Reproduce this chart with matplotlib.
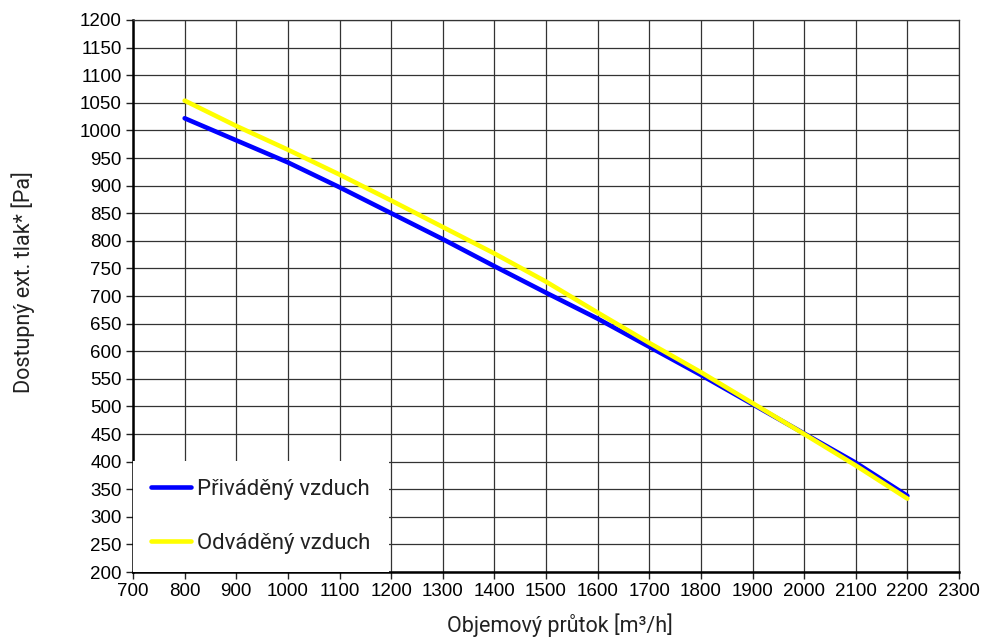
import matplotlib
matplotlib.use("Agg")
import matplotlib.pyplot as plt

flow = [800, 900, 1000, 1100, 1200, 1300, 1400, 1500, 1600, 1700, 1800, 1900, 2000, 2100, 2200]
supply = [1022, 982, 942, 897, 850, 803, 754, 706, 659, 608, 557, 504, 451, 398, 338]
exhaust = [1054, 1008, 965, 920, 873, 825, 777, 726, 670, 615, 562, 506, 450, 393, 333]

x_ticks = list(range(700, 2301, 100))
y_ticks = list(range(200, 1201, 50))

label_supply = "Přiváděný vzduch"
label_exhaust = "Odváděný vzduch"
xlabel = "Objemový průtok [m³/h]"
ylabel = "Dostupný ext. tlak* [Pa]"

plt.rcParams['font.family'] = ['Liberation Sans', 'DejaVu Sans']
label_font = ['Roboto', 'DejaVu Sans']

fig = plt.figure(figsize=(9.84, 6.41), dpi=100)
ax = fig.add_axes([0.1352, 0.1076, 0.8394, 0.8612])

ax.plot(flow, supply, color='#0000ff', linewidth=3.3, solid_capstyle='round', label=label_supply, zorder=3)
ax.plot(flow, exhaust, color='#ffff00', linewidth=3.3, solid_capstyle='round', label=label_exhaust, zorder=4)

ax.set_xlim(700, 2300)
ax.set_ylim(200, 1200)
ax.set_xticks(x_ticks)
ax.set_yticks(y_ticks)
ax.tick_params(axis='both', labelsize=13.5, length=5, width=1, color='#222222', pad=3)
ax.grid(True, color='#333333', linewidth=0.9)
ax.set_axisbelow(True)

for side in ['top', 'right']:
    ax.spines[side].set_linewidth(0.9)
    ax.spines[side].set_color('#333333')
for side in ['left', 'bottom']:
    ax.spines[side].set_linewidth(1.8)
    ax.spines[side].set_color('black')

ax.set_xlabel(xlabel, family=label_font, fontsize=15.5, color='#222222')
ax.set_ylabel(ylabel, family=label_font, fontsize=15.5, color='#222222')
ax.xaxis.set_label_coords(0.517, -0.075)
ax.yaxis.set_label_coords(-0.119, 0.525)

leg = ax.legend(loc='lower left', bbox_to_anchor=(0, 0), borderaxespad=0, frameon=True,
                fancybox=False, framealpha=1, edgecolor='none', facecolor='white',
                handlelength=1.8, handletextpad=0.3, labelspacing=1.5, borderpad=0.8,
                prop={'family': label_font, 'size': 16})
for t in leg.get_texts():
    t.set_color('#222222')
leg.set_zorder(5)

plt.savefig("out.png", dpi=100)
